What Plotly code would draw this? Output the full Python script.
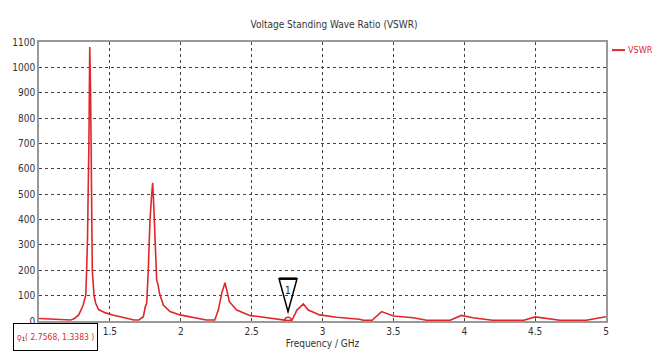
import plotly.graph_objects as go

freq = [1.00, 1.05, 1.10, 1.15, 1.20, 1.224, 1.25, 1.28, 1.31, 1.33, 1.336, 1.342, 1.352, 1.358,
        1.364, 1.370, 1.376, 1.388, 1.40, 1.42, 1.47, 1.52, 1.56, 1.60, 1.635, 1.67, 1.705, 1.72,
        1.736, 1.75, 1.76, 1.771, 1.783, 1.795, 1.802, 1.81, 1.818, 1.83, 1.84, 1.85, 1.877, 1.924,
        1.995, 2.09, 2.18, 2.24, 2.265, 2.289, 2.312, 2.33, 2.343, 2.395, 2.49, 2.56, 2.63, 2.70,
        2.7568, 2.785, 2.82, 2.865, 2.90, 2.98, 3.10, 3.26, 3.29, 3.35, 3.417, 3.50, 3.64, 3.735,
        3.90, 3.98, 4.06, 4.20, 4.42, 4.50, 4.58, 4.675, 4.86, 5.00]
vswr = [10, 9, 8, 6, 5, 4, 10, 24, 60, 102, 200, 319, 700, 1080,
        900, 500, 200, 102, 70, 45, 32, 24, 18, 12, 8, 4, 4, 12,
        17, 56, 71, 201, 398, 500, 545, 450, 332, 162, 142, 109, 63, 37,
        24, 15, 4, 4, 43, 109, 151, 109, 76, 43, 21, 17, 12, 7,
        1.3383, 4, 43, 67, 43, 24, 15, 7, 3, 3, 37, 20, 13, 3,
        3, 22, 13, 3, 3, 16, 11, 3, 3, 17]

marker_x = 2.7568
marker_y = 1.3383
x_ticks = [1, 1.5, 2, 2.5, 3, 3.5, 4, 4.5, 5]
x_tick_text = ["1", "1.5", "2", "2.5", "3", "3.5", "4", "4.5", "5"]
y_ticks = list(range(0, 1101, 100))

RED = "#e0262b"
FONT = "DejaVu Sans Condensed, Liberation Sans Narrow, Roboto, sans-serif"

fig = go.Figure()
fig.add_trace(go.Scatter(x=freq, y=vswr, mode="lines", name="VSWR",
                         line=dict(color=RED, width=1.6), showlegend=False))
fig.add_trace(go.Scatter(x=[marker_x], y=[marker_y], mode="markers", showlegend=False,
                         marker=dict(symbol="circle-open", size=7, color=RED,
                                     line=dict(width=1.5, color=RED))))

axis_common = dict(showgrid=True, gridcolor="#444", griddash="dot", gridwidth=1,
                   showline=True, linecolor="#999", linewidth=1.5, mirror=True,
                   zeroline=False, ticks="", automargin=False,
                   tickfont=dict(family=FONT, size=10, color="#333"))

# the page body adds an 8px offset, so the figure is sized and placed to compensate
W, H = 652, 354
fig.update_layout(
    width=W, height=H,
    margin=dict(l=31, r=54, t=34, b=41),
    paper_bgcolor="white", plot_bgcolor="white",
    font=dict(family=FONT, size=10, color="#333"),
    title=dict(text="Voltage Standing Wave Ratio (VSWR)", x=0.5, xanchor="center",
               y=1 - 16 / H, yanchor="middle", font=dict(family=FONT, size=10, color="#333")),
    xaxis=dict(range=[1, 5], tickvals=x_ticks, ticktext=x_tick_text,
               title=dict(text="Frequency / GHz", standoff=4,
                          font=dict(family=FONT, size=10, color="#333")),
               **axis_common),
    yaxis=dict(range=[0, 1100], tickvals=y_ticks, **axis_common),
)

# legend drawn manually
fig.add_shape(type="line", xref="paper", yref="paper", x0=1.0106, x1=1.0335,
              y0=0.971, y1=0.971, line=dict(color=RED, width=2))
fig.add_annotation(xref="paper", yref="paper", x=1.035, y=0.971, xanchor="left",
                   yanchor="middle", text="VSWR", showarrow=False,
                   font=dict(family=FONT, size=9, color=RED))

# marker triangle (pixel-sized path anchored on the marker point)
fig.add_shape(type="path", xref="x", yref="y", xsizemode="pixel", ysizemode="pixel",
              xanchor=marker_x, yanchor=marker_y,
              path="M -9,42 L 9,42 L 0,9 Z", line=dict(color="black", width=1.5),
              fillcolor="rgba(0,0,0,0)")
fig.add_shape(type="line", xref="x", yref="y", xsizemode="pixel", ysizemode="pixel",
              xanchor=marker_x, yanchor=marker_y, x0=-9, x1=9, y0=42, y1=42,
              line=dict(color="black", width=2.5))
fig.add_annotation(x=marker_x, y=marker_y, yshift=30, text="1", showarrow=False,
                   font=dict(family=FONT, size=10, color="#222"))

# marker readout box
fig.add_annotation(xref="paper", yref="paper", x=-0.046, y=-0.006, xanchor="left",
                   yanchor="top", showarrow=False, align="left", borderpad=3,
                   height=20, valign="middle",
                   bordercolor="black", borderwidth=1, bgcolor="white",
                   text=f"<span style='color:{RED}'>ϙ</span><sub>1</sub>"
                        f"<span style='color:{RED}'>( {marker_x}, {marker_y} )</span>",
                   font=dict(family=FONT, size=8.5, color="black"))

fig.write_html("out.html")
